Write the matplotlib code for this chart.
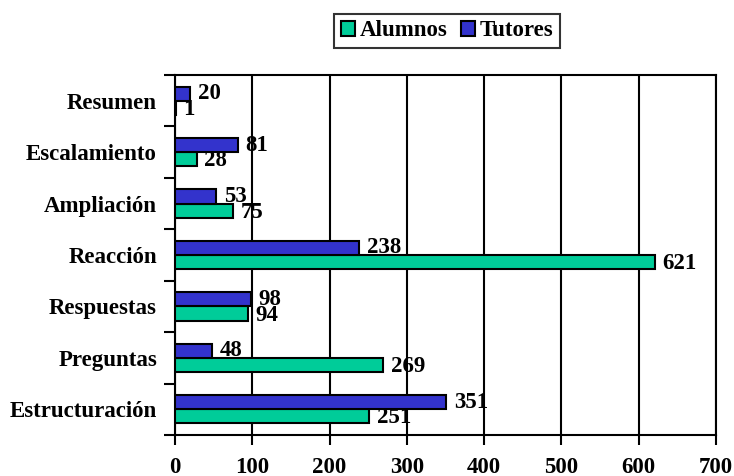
import matplotlib
matplotlib.use("Agg")
import matplotlib.pyplot as plt
import numpy as np
from matplotlib.patches import Patch

categories = ["Estructuración", "Preguntas", "Respuestas", "Reacción",
              "Ampliación", "Escalamiento", "Resumen"]
alumnos = [251, 269, 94, 621, 75, 28, 1]
tutores = [351, 48, 98, 238, 53, 81, 20]
xticks = [0, 100, 200, 300, 400, 500, 600, 700]

plt.rcParams['font.family'] = ['Liberation Serif', 'DejaVu Serif']
plt.rcParams['font.weight'] = 'bold'

c_alum = '#00CC99'
c_tut = '#3333CC'
fs = 16.5

fig = plt.figure(figsize=(7.34, 4.76), dpi=100)
ax = fig.add_axes([175/734, 1-435/476, (716-175)/734, (435-75)/476])

y = np.arange(len(categories))
h = 0.275
ax.barh(y - h/2, alumnos, height=h, color=c_alum, edgecolor='black', linewidth=1.5, zorder=3)
ax.barh(y + h/2, tutores, height=h, color=c_tut, edgecolor='black', linewidth=1.5, zorder=3)

for yi, a, t in zip(y, alumnos, tutores):
    ax.text(a + 10, yi - h/2 - 0.03, str(a), va='center', ha='left', fontsize=fs,
            fontweight='bold', zorder=4)
    ax.text(t + 10, yi + h/2, str(t), va='center', ha='left', fontsize=fs,
            fontweight='bold', zorder=4)

ax.set_xlim(0, 700)
ax.set_ylim(-0.5, len(categories) - 0.5)
ax.set_xticks(xticks)
ax.set_xticklabels([str(v) for v in xticks], fontsize=fs, fontweight='bold')
ax.set_yticks(y)
ax.set_yticklabels(categories, fontsize=fs, fontweight='bold')
ax.set_yticks(np.arange(len(categories) + 1) - 0.5, minor=True)
ax.tick_params(axis='y', which='major', length=0, pad=13)
ax.tick_params(axis='y', which='minor', length=8, width=1.5, direction='out')
ax.tick_params(axis='x', which='major', length=7, width=1.5, direction='out', pad=9)
ax.xaxis.grid(True, color='black', linewidth=1.5, zorder=0)
ax.set_axisbelow(True)
for s in ax.spines.values():
    s.set_linewidth(1.5)
    s.set_color('black')

handles = [Patch(facecolor=c_alum, edgecolor='black', linewidth=1.5, label='Alumnos'),
           Patch(facecolor=c_tut, edgecolor='black', linewidth=1.5, label='Tutores')]
leg = fig.legend(handles=handles, loc='center', bbox_to_anchor=(447/734, 1-31/476),
                 ncol=2, frameon=True, fancybox=False,
                 handlelength=0.6, handleheight=0.6, handletextpad=0.2,
                 columnspacing=0.6, borderpad=0.3, borderaxespad=0,
                 prop={'weight': 'bold', 'size': fs})
leg.get_frame().set_edgecolor('black')
leg.get_frame().set_linewidth(1.5)

fig.savefig('out.png', dpi=100)
